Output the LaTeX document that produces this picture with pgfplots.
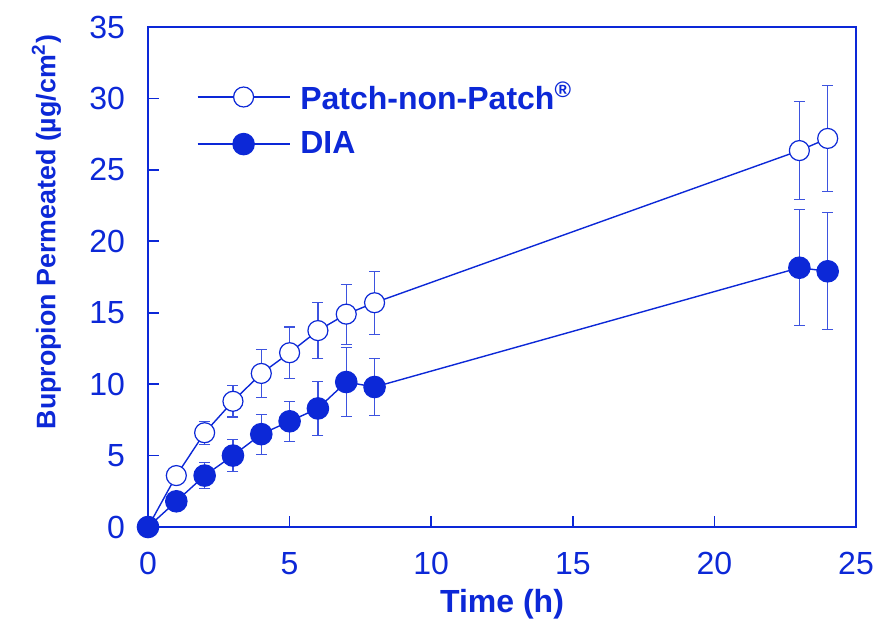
\documentclass[border=0pt]{standalone}
\usepackage{pgfplots}
\pgfplotsset{compat=1.18}
\usepackage{pgfplotstable}
\usepackage{fontspec}
\setmainfont{Liberation Sans}
\definecolor{pblue}{RGB}{12,40,215}

% time (h), permeated (ug/cm2), error
\pgfplotstableread{
x y e
0 0 0
1 3.6 0.4
2 6.6 0.8
3 8.8 1.1
4 10.75 1.7
5 12.2 1.8
6 13.75 1.95
7 14.9 2.1
8 15.7 2.2
23 26.35 3.45
24 27.2 3.7
}\pnp
\pgfplotstableread{
x y e
0 0 0
1 1.8 0.4
2 3.6 0.9
3 5.0 1.1
4 6.5 1.4
5 7.4 1.4
6 8.3 1.9
7 10.15 2.4
8 9.8 2.0
23 18.15 4.05
24 17.9 4.1
}\dia

\begin{document}
\begin{tikzpicture}
\begin{axis}[
    scale only axis, width=354pt, height=250pt,
    xmin=0, xmax=25, ymin=0, ymax=35,
    xtick={0,5,...,25}, ytick={0,5,...,35},
    tick pos=left, tick align=inside, major tick length=5.5pt,
    axis line style={pblue, line width=1pt},
    every tick/.style={pblue, line width=0.8pt},
    ticklabel style={font=\fontsize{16}{19}\selectfont, text=pblue},
    /pgf/number format/assume math mode=true,
    xticklabel style={yshift=-9pt}, yticklabel style={xshift=-8pt},
    label style={font=\fontsize{16}{19}\selectfont\bfseries, text=pblue},
    xlabel={Time (h)},
    ylabel={Bupropion Permeated (µg/cm\textsuperscript{2})},
    xlabel style={at={(axis description cs:0.5,0)}, anchor=north, yshift=-27.5pt},
    ylabel style={at={([xshift=-40pt]axis description cs:0,0.59)}, anchor=south,
        font=\fontsize{13.4}{16}\selectfont\bfseries},
    legend style={draw=none, fill=none, at={(axis description cs:0.0685,0.9)},
        anchor=north west, font=\fontsize{16}{19}\selectfont\bfseries,
        text=pblue, row sep=5.5pt, inner sep=0pt,
        /tikz/every odd column/.append style={column sep=3pt}},
    legend cell align=left,
    legend image code/.code={\draw[mark repeat=2, mark phase=2, #1]
        plot coordinates {(0pt,0pt) (23pt,0pt) (46pt,0pt)};},
    error bars/y dir=both, error bars/y explicit,
    error bars/error bar style={pblue!80, line width=0.6pt},
    error bars/error mark options={rotate=90, mark size=2.75pt, pblue!80, line width=0.6pt},
]
\addplot[pblue, line width=0.7pt, mark=*, mark size=5pt,
    mark options={fill=white, draw=pblue, line width=0.6pt}]
    table[x=x, y=y, y error=e] {\pnp};
\addlegendentry{Patch-non-Patch\textsuperscript{®}}
\addplot[pblue, line width=0.7pt, mark=*, mark size=5.3pt,
    mark options={fill=pblue, draw=pblue}]
    table[x=x, y=y, y error=e] {\dia};
\addlegendentry{DIA}
\end{axis}
\pgfresetboundingbox
\useasboundingbox (-74pt,-48pt) rectangle (369pt,263.5pt);
\end{tikzpicture}
\end{document}
